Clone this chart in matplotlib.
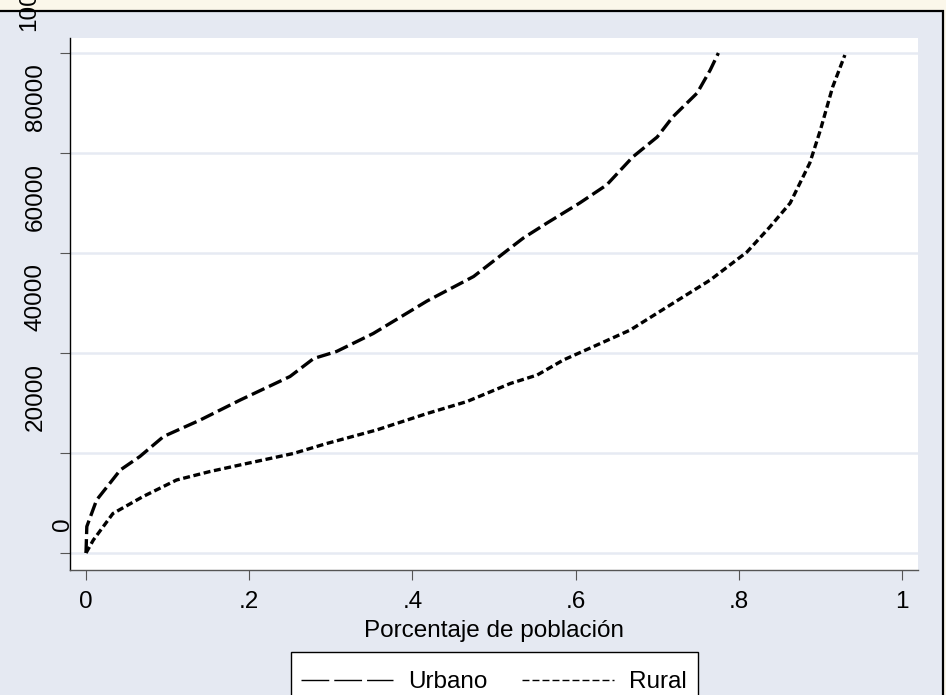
import matplotlib
matplotlib.use('Agg')
import matplotlib.pyplot as plt
import matplotlib.transforms as mtransforms
from matplotlib.lines import Line2D
from matplotlib.patches import Rectangle

plt.rcParams['font.family'] = ['Liberation Sans', 'DejaVu Sans']
plt.rcParams['lines.scale_dashes'] = False

# curves (share of population vs income)
urbano_x = [0.0, 0.001, 0.013, 0.029, 0.042, 0.066, 0.095, 0.140, 0.189, 0.250,
            0.279, 0.307, 0.352, 0.418, 0.475, 0.520, 0.536, 0.565, 0.605, 0.638,
            0.670, 0.700, 0.719, 0.749, 0.765, 0.775]
urbano_y = [0, 5300, 10600, 13900, 16600, 19300, 23300, 26600, 30600, 35300,
            38900, 40300, 43900, 50400, 55300, 61000, 63000, 66000, 70000, 73600,
            79200, 83200, 87200, 92000, 96600, 100000]

rural_x = [0.0, 0.009, 0.033, 0.070, 0.111, 0.152, 0.197, 0.254, 0.295, 0.356,
           0.418, 0.467, 0.520, 0.553, 0.585, 0.618, 0.667, 0.712, 0.765, 0.810,
           0.838, 0.863, 0.887, 0.900, 0.915, 0.930]
rural_y = [0, 2600, 7900, 11300, 14600, 16300, 17900, 19900, 21900, 24600,
           27900, 30300, 33900, 35600, 38600, 41000, 44600, 49200, 54600, 60200,
           65200, 70000, 78000, 84600, 93200, 99600]

x_ticks = [0, 0.2, 0.4, 0.6, 0.8, 1]
x_tick_labels = ['0', '.2', '.4', '.6', '.8', '1']
y_ticks = [0, 20000, 40000, 60000, 80000, 100000]
y_tick_labels = ['0', '20000', '40000', '60000', '80000', '100000']

fs = 17.5
W, H = 946, 695

fig = plt.figure(figsize=(W / 100, H / 100), dpi=100, facecolor='#fbf7ea')
# stata graph region with black frame
fig.add_artist(Rectangle((-10 / W, -10 / H), 953 / W, (H - 11 + 10) / H,
                         transform=fig.transFigure, facecolor='#e5e9f2',
                         edgecolor='black', lw=1.6, zorder=0))

ax = fig.add_axes([70 / W, 1 - 570 / H, 848 / W, 532 / H])
ax.set_facecolor('white')

ax.plot(urbano_x, urbano_y, color='black', lw=2.4, dashes=(10, 3.6))
ax.plot(rural_x, rural_y, color='black', lw=2.4, dashes=(5, 2.6))

ax.set_xlim(-16 / 816, 1 + 16 / 816)
ax.set_ylim(-3400, 103000)
ax.set_xticks(x_ticks, x_tick_labels, fontsize=fs)
ax.set_yticks(y_ticks, [''] * len(y_ticks))
ax.grid(axis='y', color='#e6eaf3', lw=1.8)
ax.set_axisbelow(True)

for s in ['top', 'right']:
    ax.spines[s].set_visible(False)
ax.spines['left'].set_color('black')
ax.spines['left'].set_linewidth(1.0)
ax.spines['bottom'].set_color('#555555')
ax.spines['bottom'].set_linewidth(1.0)
ax.tick_params(axis='x', length=7, color='#555555', pad=8)
ax.tick_params(axis='y', length=7, color='#555555')
ax.set_xlabel('Porcentaje de población', fontsize=fs, labelpad=5)

# rotated y labels, placed the way stata put them
base = mtransforms.blended_transform_factory(ax.transAxes, ax.transData)
for v, lab in zip(y_ticks, y_tick_labels):
    w = len(lab) * 0.556 * 24.3
    tr = base + mtransforms.ScaledTranslation((-0.5 - w / 2) / 100, 22 / 100,
                                              fig.dpi_scale_trans)
    ax.text(0, v, lab, transform=tr, rotation=90, rotation_mode='anchor',
            ha='left', va='center', fontsize=fs, clip_on=False)

# legend box runs off the bottom edge, so draw the frame by hand
fig.add_artist(Rectangle((291 / W, -20 / H), 407 / W, (H - 652 + 20) / H,
                         transform=fig.transFigure, facecolor='white',
                         edgecolor='black', lw=1.0, zorder=1))
handles = [Line2D([], [], color='black', lw=1.0, dashes=(20, 3.6)),
           Line2D([], [], color='black', lw=1.0, dashes=(5, 2.2))]
leg = fig.legend(handles, ['Urbano', 'Rural'], loc='upper center',
                 bbox_to_anchor=(494 / W, 1 - 662 / H), ncol=2, fontsize=fs,
                 handlelength=3.77, handletextpad=0.62, columnspacing=1.44,
                 borderpad=0.37, borderaxespad=0, frameon=False)
leg.set_zorder(2)

fig.savefig('out.png', dpi=100, facecolor=fig.get_facecolor())
